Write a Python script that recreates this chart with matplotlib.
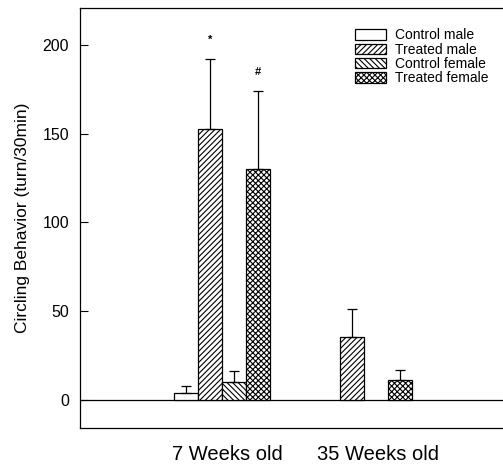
import matplotlib
matplotlib.use("Agg")
import matplotlib.pyplot as plt
import numpy as np

plt.rcParams["font.family"] = ["Liberation Sans", "DejaVu Sans"]
plt.rcParams["hatch.linewidth"] = 0.8

# data
groups = ["7 Weeks old", "35 Weeks old"]
series = ["Control male", "Treated male", "Control female", "Treated female"]
means = [
    [4, 0],      # control male
    [153, 35.5], # treated male
    [10, 0],     # control female
    [130, 11],   # treated female
]
errs = [
    [3.5, 0],
    [39, 15.5],
    [6, 0],
    [44, 5.5],
]
marks = [None, "*", None, "#"]
hatches = ["", "//////", "\\\\\\\\\\\\", "xxxxxx"]

fig = plt.figure(figsize=(5.03, 4.66), dpi=100)
ax = fig.add_axes([80 / 503, 1 - 428 / 466, 1 - 80 / 503, 420 / 466])

x = np.arange(len(groups))
w = 0.168
for i, name in enumerate(series):
    pos = x + (i - 1.5) * w
    vals = np.array(means[i], dtype=float)
    err = np.array(errs[i], dtype=float)
    keep = vals > 0
    ax.bar(pos[keep], vals[keep], w, color="white", edgecolor="black",
           hatch=hatches[i], linewidth=0.9, label=name, zorder=2)
    ax.errorbar(pos[keep], vals[keep], yerr=[np.zeros(keep.sum()), err[keep]],
                fmt="none", ecolor="black", elinewidth=0.9, capsize=3.5,
                capthick=0.9, zorder=3)
    if marks[i]:
        ax.text(pos[0], vals[0] + err[0] + 8, marks[i], ha="center",
                va="bottom", fontsize=8, fontweight="bold")

# baseline at zero
ax.axhline(0, color="black", linewidth=0.9, zorder=1)

ax.set_xlim(-1.0, 1.98)
ax.set_ylim(-16, 221)
ax.set_yticks([0, 50, 100, 150, 200])
# group labels sit a bit right of the bar groups in the original
ax.set_xticks(x + np.array([0.04, 0.1]))
ax.set_xticklabels(groups, fontsize=14.5)
ax.tick_params(axis="x", length=0, pad=12)
ax.tick_params(axis="y", direction="in", length=6, labelsize=11.5, pad=8)
ax.set_ylabel("Circling Behavior (turn/30min)", fontsize=12.5, labelpad=9)
ax.spines["right"].set_visible(False)
for s in ["left", "top", "bottom"]:
    ax.spines[s].set_linewidth(0.9)

ax.legend(loc="upper left", bbox_to_anchor=(0.644, 0.958), frameon=False,
          fontsize=10, handlelength=2.25, handleheight=0.8, labelspacing=0.02,
          handletextpad=0.65, borderpad=0.2, borderaxespad=0)

fig.savefig("out.png", dpi=100)
